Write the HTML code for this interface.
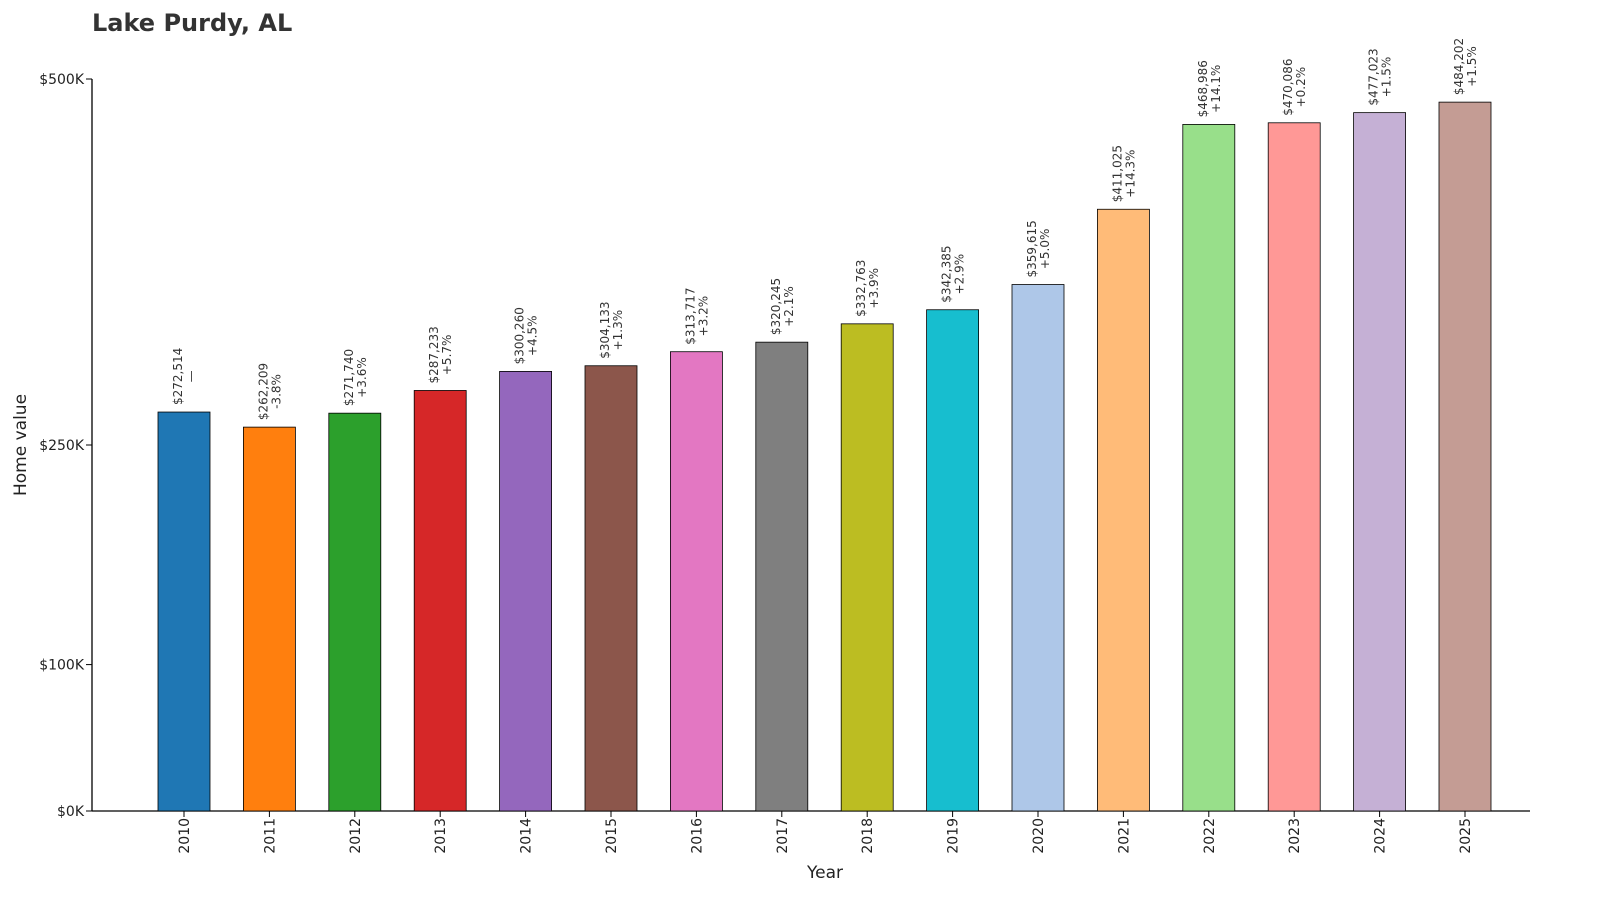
<!DOCTYPE html>
<html><head><meta charset="utf-8"><style>
html,body{margin:0;padding:0;background:#fff;overflow:hidden;width:1600px;height:911px;}
svg{display:block;font-family:"DejaVu Sans","Liberation Sans",sans-serif;}
</style></head><body>
<svg id="chart" width="1600" height="911">
<text x="92" y="31" font-size="24" font-weight="bold" fill="#333">Lake Purdy, AL</text>
<g id="axes"></g><g id="bars"></g>
<text x="825" y="878" font-size="17" text-anchor="middle" fill="#222">Year</text>
<text transform="translate(26,445) rotate(-90)" font-size="17" text-anchor="middle" fill="#222">Home value</text>
</svg>
<script>
const years=[2010,2011,2012,2013,2014,2015,2016,2017,2018,2019,2020,2021,2022,2023,2024,2025];
const values=[272514,262209,271740,287233,300260,304133,313717,320245,332763,342385,359615,411025,468986,470086,477023,484202];
const changes=["—","-3.8%","+3.6%","+5.7%","+4.5%","+1.3%","+3.2%","+2.1%","+3.9%","+2.9%","+5.0%","+14.3%","+14.1%","+0.2%","+1.5%","+1.5%"];
const yTicks=[0,100000,250000,500000];
const yTickLabels=["$0K","$100K","$250K","$500K"];
const colors=["#1f77b4","#ff7f0e","#2ca02c","#d62728","#9467bd","#8c564b","#e377c2","#7f7f7f","#bcbd22","#17becf","#aec7e8","#ffbb78","#98df8a","#ff9896","#c5b0d5","#c49c94"];
const NS="http://www.w3.org/2000/svg";
const y=v=>811-v*732/500000;
const x=i=>184+i*(1465-184)/15;
const axes=document.getElementById('axes'),bars=document.getElementById('bars');
function mk(t,a,p){const e=document.createElementNS(NS,t);for(const k in a)e.setAttribute(k,a[k]);p.appendChild(e);return e;}
let ax=mk('line',{x1:92,y1:79,x2:92,y2:811,stroke:'#000','stroke-width':1.3},axes);


let bx=mk('line',{x1:92,y1:811,x2:1530,y2:811,stroke:'#000','stroke-width':1.3},axes);


yTicks.forEach((v,i)=>{
 mk('line',{x1:86,x2:92,y1:y(v),y2:y(v),stroke:'#000'},axes);
 const t=mk('text',{x:84,y:y(v)+5,'font-size':14,'text-anchor':'end',fill:'#222'},axes);
 t.textContent=yTickLabels[i];
 
 
});
years.forEach((yr,i)=>{
 const cx=x(i),top=y(values[i]);
 const r=mk('rect',{x:cx-26,y:top,width:52,height:811-top,fill:colors[i],stroke:'#000','stroke-width':0.8},bars);
 
 
 mk('line',{x1:cx,x2:cx,y1:811,y2:817,stroke:'#000'},axes);
 const t=mk('text',{transform:`translate(${cx+5},818) rotate(-90)`,'font-size':14,'text-anchor':'end',fill:'#222'},axes);
 t.textContent=yr;
 
 
 const l1=mk('text',{transform:`translate(${cx-2},${top-7}) rotate(-90)`,'font-size':12,fill:'#333'},bars);
 l1.textContent='$'+values[i].toLocaleString('en-US');
 
 
 const len=l1.getComputedTextLength();
 const l2=mk('text',{transform:`translate(${cx+11},${top-7-len/2}) rotate(-90)`,'font-size':12,fill:'#333','text-anchor':'middle'},bars);
 l2.textContent=changes[i];
 
 
});
</script>
</body></html>
